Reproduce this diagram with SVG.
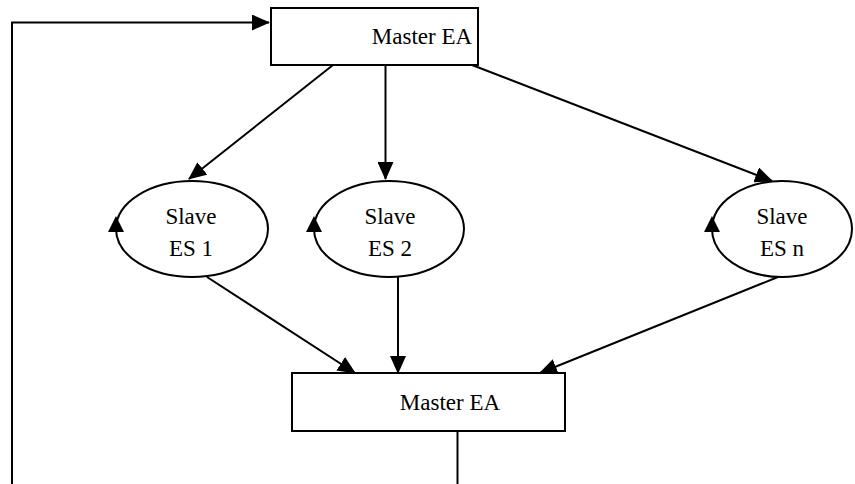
<svg xmlns="http://www.w3.org/2000/svg" width="855" height="484" viewBox="0 0 855 484">
<style>
.box{fill:#fff;stroke:#000;stroke-width:2}
.ell{fill:#fff;stroke:#000;stroke-width:2}
.lbl{font-family:"Liberation Serif","Times New Roman",serif;font-size:23px;fill:#000;text-anchor:middle}
.con{fill:none;stroke:#000;stroke-width:2}
.head{fill:#000}
</style>
<defs>
<marker id="ah" markerUnits="userSpaceOnUse" markerWidth="18" markerHeight="16" viewBox="0 0 18 16" refX="17" refY="8" orient="auto">
<path d="M0,0 L18,8 L0,16 Z" fill="#000"/>
</marker>
</defs>
<rect width="855" height="484" fill="#fff"/>
<g id="master-top">
<rect class="box" x="271" y="8" width="207" height="57"/>
<text class="lbl" x="422" y="44">Master EA</text>
</g>
<g id="slave1">
<ellipse class="ell" cx="192" cy="229" rx="76" ry="48"/>
<polygon class="head" points="116,216 108,232 124,232"/>
<text class="lbl" x="191" y="224">Slave</text>
<text class="lbl" x="191" y="256">ES 1</text>
</g>
<g id="slave2">
<ellipse class="ell" cx="389" cy="229" rx="75" ry="48"/>
<polygon class="head" points="314,216 306,232 322,232"/>
<text class="lbl" x="390" y="224">Slave</text>
<text class="lbl" x="390" y="256">ES 2</text>
</g>
<g id="slaven">
<ellipse class="ell" cx="782" cy="229" rx="70" ry="48"/>
<polygon class="head" points="712,216 704,232 720,232"/>
<text class="lbl" x="782" y="224">Slave</text>
<text class="lbl" x="782" y="256">ES n</text>
</g>
<g id="master-bottom">
<rect class="box" x="292" y="373" width="273" height="58"/>
<text class="lbl" x="450" y="410">Master EA</text>
</g>
<g id="connectors">
<path class="con" d="M333,65 L189,179" marker-end="url(#ah)"/>
<path class="con" d="M385.5,65 L385.5,179" marker-end="url(#ah)"/>
<path class="con" d="M472,65 L772,181" marker-end="url(#ah)"/>
<path class="con" d="M207,277 L355,373" marker-end="url(#ah)"/>
<path class="con" d="M398,277 L398,373" marker-end="url(#ah)"/>
<path class="con" d="M778,277 L540,373" marker-end="url(#ah)"/>
<path class="con" d="M457.5,431 L457.5,484"/>
<path class="con" d="M12,484 L12,22.5 L269,22.5" marker-end="url(#ah)"/>
</g>
</svg>
